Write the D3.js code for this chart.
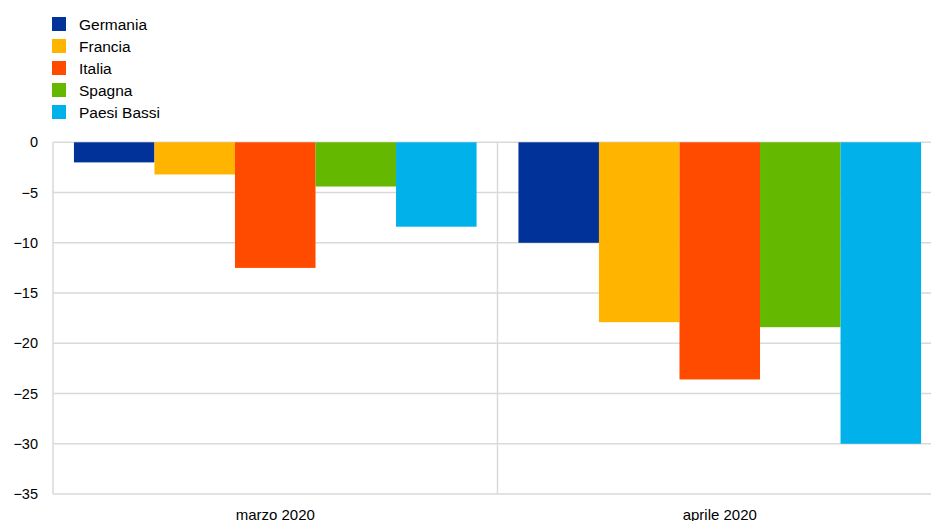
<!DOCTYPE html>
<html>
<head>
<meta charset="utf-8">
<script src="https://cdn.jsdelivr.net/npm/d3@7"></script>
<style>
  body { margin: 0; background: #fff; overflow: hidden; }
  text { font-family: "Liberation Sans", Arial, sans-serif; fill: #000; }
</style>
</head>
<body>
<svg id="chart" width="931" height="521"></svg>
<script>
var categories = ["marzo 2020", "aprile 2020"];
var countries = ["Germania", "Francia", "Italia", "Spagna", "Paesi Bassi"];
var colors = ["#003299", "#ffb400", "#ff4b00", "#65b800", "#00b1ea"];
var germania = [-2.0, -10.0];
var francia = [-3.2, -17.9];
var italia = [-12.5, -23.6];
var spagna = [-4.4, -18.4];
var paesiBassi = [-8.4, -30.0];
var yTicks = [0, -5, -10, -15, -20, -25, -30, -35];

var series = [germania, francia, italia, spagna, paesiBassi];

var svg = d3.select('#chart');
var plotLeft = 53, plotRight = 942, plotTop = 142.3, plotBottom = 494;

var x0 = d3.scaleBand().domain(categories).range([plotLeft, plotRight]).paddingInner(0).paddingOuter(0);
var x1 = d3.scaleBand().domain(countries).range([0, x0.bandwidth()]).paddingOuter(0.26).paddingInner(0);
var y = d3.scaleLinear().domain([-35, 0]).range([plotBottom, plotTop]);

// gridlines
svg.append('g').selectAll('line').data(yTicks).enter().append('line')
	.attr('x1', plotLeft).attr('x2', 931)
	.attr('y1', function(d){ return y(d); }).attr('y2', function(d){ return y(d); })
	.attr('stroke', '#d9d9d9').attr('stroke-width', 1.5);

// vertical axis and category separator
var seps = [plotLeft, x0(categories[1])];
svg.append('g').selectAll('line').data(seps).enter().append('line')
	.attr('x1', function(d){ return d; }).attr('x2', function(d){ return d; })
	.attr('y1', y(0)).attr('y2', y(-35))
	.attr('stroke', '#d9d9d9').attr('stroke-width', 1.5);

// bars
var groups = svg.append('g').selectAll('g').data(categories).enter().append('g')
	.attr('transform', function(d){ return 'translate(' + x0(d) + ',0)'; });
groups.selectAll('rect')
	.data(function(d, ci){ return countries.map(function(c, si){ return {c: c, v: series[si][ci], col: colors[si]}; }); })
	.enter().append('rect')
		.attr('x', function(d){ return x1(d.c); })
		.attr('width', x1.bandwidth())
		.attr('y', y(0))
		.attr('height', function(d){ return y(d.v) - y(0); })
		.attr('fill', function(d){ return d.col; });

// y axis labels
var yAxis = d3.axisLeft(y).tickValues(yTicks).tickSize(0).tickPadding(15);
var yg = svg.append('g').attr('transform', 'translate(' + plotLeft + ',0)').call(yAxis);
yg.select('.domain').remove();
yg.selectAll('text').style('font-size', '14.5px').style('font-family', '"Liberation Sans", Arial, sans-serif');

// x axis labels
var xAxis = d3.axisBottom(x0).tickSize(0).tickPadding(15);
var xg = svg.append('g').attr('transform', 'translate(0,' + plotBottom + ')').call(xAxis);
xg.select('.domain').remove();
xg.selectAll('text').style('font-size', '15px').style('font-family', '"Liberation Sans", Arial, sans-serif');

// legend
var legend = svg.append('g').selectAll('g').data(countries).enter().append('g')
	.attr('transform', function(d, i){ return 'translate(52,' + (17 + i * 22) + ')'; });
legend.append('rect').attr('width', 14).attr('height', 14)
	.attr('fill', function(d, i){ return colors[i]; });
legend.append('text').attr('x', 27).attr('y', 13).style('font-size', '15.5px')
	.text(function(d){ return d; });
</script>
</body>
</html>
